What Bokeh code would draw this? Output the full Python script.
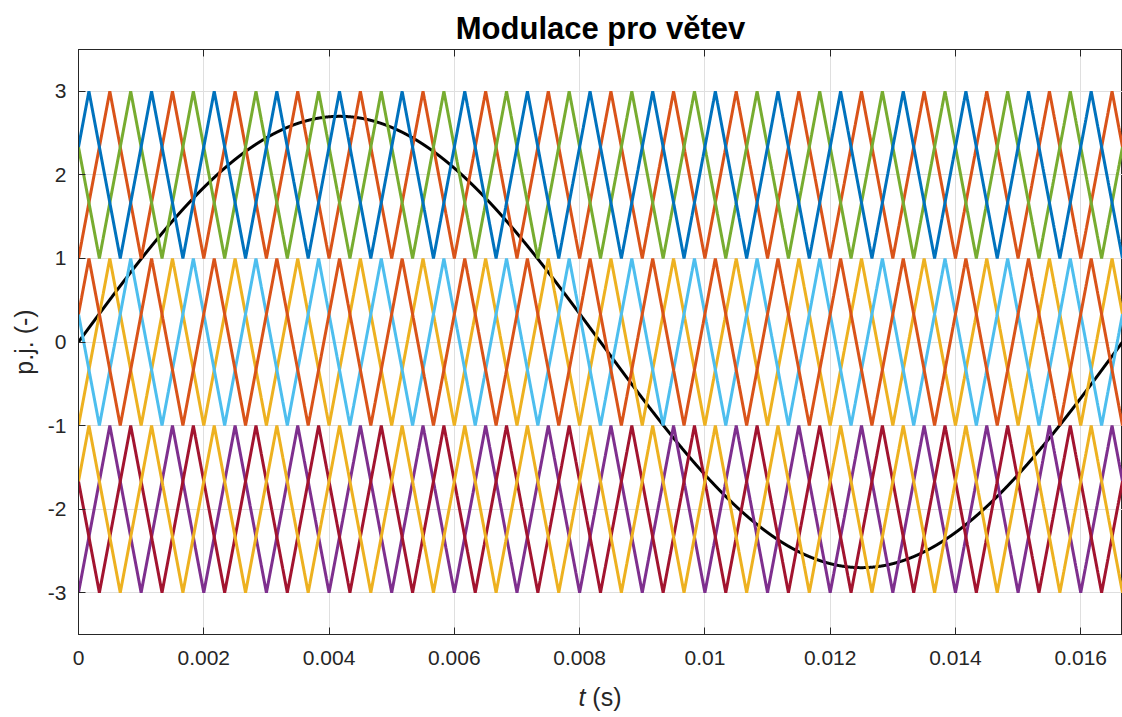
import numpy as np
from bokeh.plotting import figure
from bokeh.layouts import column
from bokeh.models import (Range1d, FixedTicker, CustomJSTickFormatter, LinearAxis,
                          Title, Div)
from bokeh.embed import file_html
from bokeh.resources import INLINE

# ---- data / parameters ----
t_end = 1 / 60                      # one fundamental period (60 Hz)
ref_amplitude = 2.7                 # black reference sine amplitude
ref_freq = 60.0
carrier_freq = 1000.0               # triangular carriers, 1 kHz
# carrier plotting order (MATLAB colour order, after the black sine)
carrier_low = [1, -1, -3, 1, -1, -3, 1, -1, -3]
carrier_high = [3, 1, -1, 3, 1, -1, 3, 1, -1]
carrier_shift = [0, 0, 0, -1/3, -1/3, -1/3, 1/3, 1/3, 1/3]
carrier_colors = ["#D95319", "#EDB120", "#7E2F8E", "#77AC30", "#4DBEEE",
                  "#A2142F", "#0072BD", "#D95319", "#EDB120"]
x_ticks = [0, 0.002, 0.004, 0.006, 0.008, 0.01, 0.012, 0.014, 0.016]
y_ticks = [-3, -2, -1, 0, 1, 2, 3]

FONT = "Liberation Sans"
AX = "#262626"

t = np.linspace(0, t_end, 20001)

p = figure(width=1122, height=680, output_backend="svg", toolbar_location=None,
           x_range=Range1d(0, t_end), y_range=Range1d(-3.5, 3.5),
           min_border_left=78, min_border_right=0, min_border_top=49,
           min_border_bottom=46, x_axis_location=None, y_axis_location=None,
           margin=0)
p.title = Title(text="Modulace pro větev", align="center", text_font=FONT,
                text_font_size="31px", text_font_style="bold", text_color="black",
                standoff=8)
p.outline_line_color = AX
p.outline_line_width = 1
p.background_fill_color = "white"
p.border_fill_color = "white"

fmt = CustomJSTickFormatter(code="return String(Number(tick.toFixed(6)));")
blank = CustomJSTickFormatter(code="return '';")

xaxis = LinearAxis(ticker=FixedTicker(ticks=x_ticks), formatter=fmt)
yaxis = LinearAxis(ticker=FixedTicker(ticks=y_ticks), formatter=fmt,
                   axis_label="p.j. (-)")
for ax in (xaxis, yaxis):
    ax.major_tick_in = 7
    ax.major_tick_out = 0
    ax.minor_tick_line_color = None
    ax.axis_line_color = AX
    ax.major_tick_line_color = AX
    ax.major_label_text_font = FONT
    ax.major_label_text_font_size = "21px"
    ax.major_label_text_color = AX
    ax.axis_label_text_font = FONT
    ax.axis_label_text_font_size = "25px"
    ax.axis_label_text_font_style = "normal"
    ax.axis_label_text_color = AX
xaxis.major_label_standoff = 16
yaxis.major_label_standoff = 12
yaxis.axis_label_standoff = 7
p.add_layout(xaxis, "below")
p.add_layout(yaxis, "left")

top_axis = LinearAxis(ticker=FixedTicker(ticks=x_ticks), formatter=blank,
                      major_tick_in=7, major_tick_out=0,
                      minor_tick_line_color=None, axis_line_color=AX,
                      major_tick_line_color=AX, major_label_standoff=0)
p.add_layout(top_axis, "above")

p.xgrid.ticker = FixedTicker(ticks=x_ticks)
p.ygrid.ticker = FixedTicker(ticks=y_ticks)
for g in (p.xgrid, p.ygrid):
    g.grid_line_color = "#dfdfdf"
    g.grid_line_width = 1

# reference sine (drawn first, below carriers)
p.line(t, ref_amplitude * np.sin(2 * np.pi * ref_freq * t), line_color="black",
       line_width=3)

for lo, hi, sh, col in zip(carrier_low, carrier_high, carrier_shift, carrier_colors):
    ph = np.mod(t * carrier_freq + sh, 1.0)
    tri = 1 - np.abs(2 * ph - 1)
    p.line(t, lo + (hi - lo) * tri, line_color=col, line_width=3)

# x axis label with italic t (HTML text below the plot)
xlabel = Div(text="<i>t</i>&nbsp;(s)", width=1122, height=37, margin=0,
             styles={"font-family": FONT, "font-size": "25px", "color": AX,
                     "text-align": "center", "padding-left": "78px",
                     "box-sizing": "border-box", "line-height": "34px",
                     "background-color": "white"})

layout = column(p, xlabel, spacing=0, margin=0)
open("out.html", "w").write(file_html(layout, INLINE))
